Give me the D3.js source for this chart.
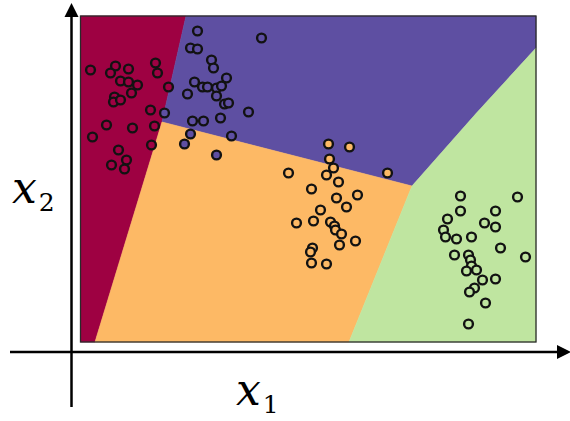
<!DOCTYPE html>
<html>
<head>
<meta charset="utf-8">
<script src="https://cdn.jsdelivr.net/npm/d3@7"></script>
<style>
body { margin: 0; background: #fff; }
</style>
</head>
<body>
<div id="chart"></div>
<script>
// class colours (Spectral-like)
var classNames = ["red", "purple", "orange", "green"];
var classColors = ["#9e0142", "#5e4fa2", "#fdb965", "#bfe5a0"];

// points per class, [x1, x2]
var pointsRed = [
    [0.10, 2.72], [0.35, 2.76], [0.30, 2.69], [0.48, 2.73], [0.40, 2.61],
    [0.48, 2.60], [0.57, 2.57], [0.51, 2.49], [0.75, 2.79], [0.77, 2.69],
    [0.88, 2.55], [0.34, 2.45], [0.33, 2.40], [0.40, 2.42], [0.70, 2.32],
    [0.26, 2.17], [0.52, 2.14], [0.74, 2.16], [0.12, 2.05], [0.71, 1.97],
    [0.38, 1.92], [0.46, 1.82], [0.31, 1.77], [0.44, 1.73]
];
var pointsPurple = [
    [1.17, 3.11], [1.81, 3.04], [1.10, 2.94], [1.17, 2.93], [1.31, 2.82],
    [1.33, 2.74], [1.14, 2.60], [1.22, 2.55], [1.27, 2.55], [1.36, 2.54],
    [1.41, 2.56], [1.46, 2.64], [1.36, 2.46], [1.07, 2.48], [1.44, 2.38],
    [1.48, 2.39], [1.68, 2.30], [1.40, 2.24], [1.12, 2.21], [1.23, 2.21],
    [0.84, 2.29], [1.10, 2.08], [1.51, 2.06], [1.04, 1.98], [1.36, 1.87]
];
var pointsOrange = [
    [2.48, 1.98], [2.69, 1.95], [2.49, 1.83], [2.53, 1.74], [2.46, 1.67],
    [2.58, 1.60], [2.08, 1.69], [3.07, 1.69], [2.31, 1.53], [2.56, 1.44],
    [2.77, 1.47], [2.66, 1.35], [2.40, 1.32], [2.16, 1.19], [2.33, 1.21],
    [2.50, 1.20], [2.54, 1.16], [2.55, 1.12], [2.61, 1.08], [2.75, 1.01],
    [2.59, 0.97], [2.32, 0.94], [2.30, 0.90], [2.31, 0.79], [2.46, 0.78]
];
var pointsGreen = [
    [3.80, 1.46], [4.37, 1.45], [3.80, 1.31], [4.15, 1.31], [3.67, 1.23],
    [4.04, 1.19], [4.15, 1.15], [3.63, 1.12], [3.65, 1.05], [3.76, 1.03],
    [3.91, 1.05], [4.20, 0.94], [4.45, 0.85], [3.74, 0.87], [3.88, 0.87],
    [3.90, 0.82], [3.91, 0.76], [3.86, 0.71], [3.96, 0.72], [4.02, 0.62],
    [4.15, 0.63], [3.94, 0.54], [3.89, 0.50], [4.05, 0.39], [3.88, 0.18]
];

// decision regions, polygon vertices [x1, x2]
var regionRed = [[0, 3.26], [1.055, 3.26], [0.815, 2.20], [0.145, 0], [0, 0]];
var regionPurple = [[1.055, 3.26], [4.555, 3.26], [4.555, 2.94], [3.96, 2.29], [3.315, 1.56], [0.815, 2.20]];
var regionOrange = [[0.815, 2.20], [3.315, 1.56], [2.685, 0], [0.145, 0]];
var regionGreen = [[3.315, 1.56], [3.96, 2.29], [4.555, 2.94], [4.555, 0], [2.685, 0]];

var xDomain = [0, 4.555];
var yDomain = [0, 3.26];

var width = 570, height = 421;
var plot = { left: 80.5, right: 536, top: 16, bottom: 342 };

var x = d3.scaleLinear().domain(xDomain).range([plot.left, plot.right]);
var y = d3.scaleLinear().domain(yDomain).range([plot.bottom, plot.top]);

var color = d3.scaleOrdinal().domain(classNames).range(classColors);

var svg = d3.select("#chart").append("svg")
    .attr("width", width)
    .attr("height", height);

var regions = [
    { name: "red", pts: regionRed },
    { name: "purple", pts: regionPurple },
    { name: "orange", pts: regionOrange },
    { name: "green", pts: regionGreen }
];

var line = d3.line()
    .x(function(d) { return x(d[0]); })
    .y(function(d) { return y(d[1]); });

svg.append("g").selectAll("path")
    .data(regions)
    .enter().append("path")
    .attr("d", function(d) { return line(d.pts) + "Z"; })
    .style("fill", function(d) { return color(d.name); })
    .style("stroke", function(d) { return color(d.name); })
    .style("stroke-width", 0.6);

// frame
svg.append("rect")
    .attr("x", x(xDomain[0]))
    .attr("y", y(yDomain[1]))
    .attr("width", x(xDomain[1]) - x(xDomain[0]))
    .attr("height", y(yDomain[0]) - y(yDomain[1]))
    .style("fill", "none")
    .style("stroke", "#2a2a2a")
    .style("stroke-width", 1.3);

var points = [];
[pointsRed, pointsPurple, pointsOrange, pointsGreen].forEach(function(arr, i) {
    arr.forEach(function(p) {
        points.push({ x: p[0], y: p[1], name: classNames[i] });
    });
});

svg.append("g").selectAll("circle")
    .data(points)
    .enter().append("circle")
    .attr("cx", function(d) { return x(d.x); })
    .attr("cy", function(d) { return y(d.y); })
    .attr("r", 4.4)
    .style("fill", function(d) { return color(d.name); })
    .style("stroke", "#121212")
    .style("stroke-width", 2.4);

// arrows for the axes
var defs = svg.append("defs");
defs.append("marker")
    .attr("id", "arrow")
    .attr("viewBox", "0 0 10 10")
    .attr("refX", 0)
    .attr("refY", 5)
    .attr("markerUnits", "userSpaceOnUse")
    .attr("markerWidth", 14)
    .attr("markerHeight", 15)
    .attr("orient", "auto")
    .append("path")
    .attr("d", "M0,0 L10,5 L0,10 Z")
    .style("fill", "#000");

svg.append("line")
    .attr("x1", 10).attr("y1", 352)
    .attr("x2", 557).attr("y2", 352)
    .style("stroke", "#000")
    .style("stroke-width", 2.5)
    .attr("marker-end", "url(#arrow)");

svg.append("line")
    .attr("x1", 71.5).attr("y1", 407)
    .attr("x2", 71.5).attr("y2", 17)
    .style("stroke", "#000")
    .style("stroke-width", 2.5)
    .attr("marker-end", "url(#arrow)");

// axis labels
function mathLabel(px, py, sub) {
    var t = svg.append("text")
        .attr("x", px)
        .attr("y", py)
        .style("font-family", "'DejaVu Serif', 'Liberation Serif', serif")
        .style("fill", "#000");
    t.append("tspan")
        .style("font-style", "italic")
        .style("font-size", "44px")
        .text("x");
    t.append("tspan")
        .attr("dx", 2)
        .attr("dy", 8)
        .style("font-size", "25px")
        .text(sub);
}
mathLabel(12, 203, "2");
mathLabel(236, 405, "1");
</script>
</body>
</html>
